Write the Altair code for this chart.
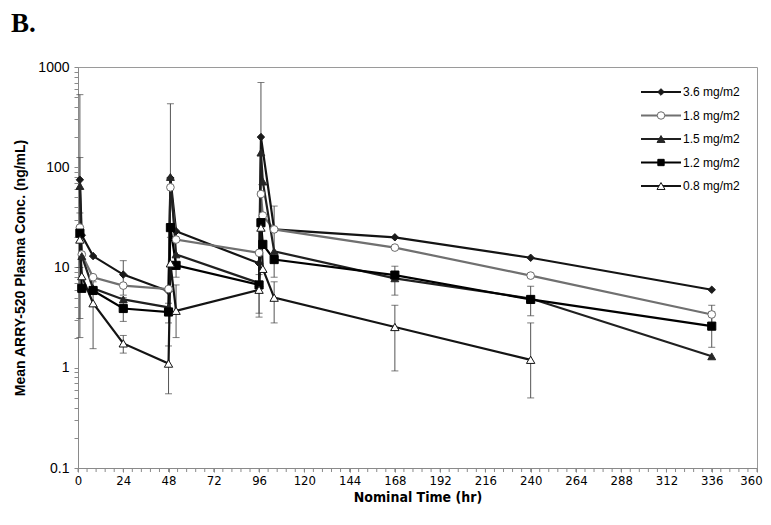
import altair as alt
import pandas as pd

# ---------------- data ----------------
series = ["3.6 mg/m2", "1.8 mg/m2", "1.5 mg/m2", "1.2 mg/m2", "0.8 mg/m2"]
line_colors = ["#141414", "#707070", "#202020", "#000000", "#141414"]
shapes = ["diamond", "circle", "triangle-up", "square", "triangle-up"]
fills = ["#1a1a1a", "#ffffff", "#262626", "#000000", "#ffffff"]
strokes = ["#1a1a1a", "#6a6a6a", "#262626", "#000000", "#141414"]
sizes = [55, 70, 80, 50, 80]

t_36 = [1, 2, 8, 24, 48, 49, 52, 96, 97, 104, 168, 240, 336]
c_36 = [75, 21, 13, 8.5, 5.8, 78, 23, 11, 200, 24, 20, 12.5, 6.0]
t_18 = [1, 2, 8, 24, 48, 49, 52, 96, 97, 98, 104, 168, 240, 336]
c_18 = [25, 13.5, 8.0, 6.6, 6.1, 63, 19, 14, 54, 33, 24, 15.8, 8.3, 3.4]
t_15 = [1, 2, 8, 24, 48, 49, 52, 96, 97, 98, 104, 168, 240, 336]
c_15 = [65, 13, 6.2, 4.8, 4.0, 80, 13.5, 7.0, 140, 72, 14.5, 7.8, 4.9, 1.3]
t_12 = [1, 2, 8, 24, 48, 49, 52, 96, 97, 98, 104, 168, 240, 336]
c_12 = [22, 6.2, 5.9, 3.9, 3.6, 25, 10.5, 6.7, 28, 17, 12, 8.4, 4.8, 2.6]
t_08 = [1, 2, 8, 24, 48, 49, 52, 96, 97, 98, 104, 168, 240]
c_08 = [19, 8.2, 4.4, 1.75, 1.1, 11, 3.7, 6.0, 25, 9.7, 5.0, 2.55, 1.2]

eb_series = ["3.6 mg/m2", "1.5 mg/m2", "1.2 mg/m2", "0.8 mg/m2", "3.6 mg/m2",
             "0.8 mg/m2", "1.2 mg/m2", "0.8 mg/m2", "1.2 mg/m2", "1.5 mg/m2",
             "0.8 mg/m2", "1.2 mg/m2", "1.5 mg/m2", "0.8 mg/m2", "3.6 mg/m2",
             "1.8 mg/m2", "0.8 mg/m2", "1.5 mg/m2", "0.8 mg/m2", "0.8 mg/m2",
             "1.5 mg/m2", "1.8 mg/m2", "1.2 mg/m2"]
eb_time = [1, 1, 1, 8, 24,
           24, 24, 48, 48, 49,
           52, 52, 96, 96, 97,
           104, 104, 168, 168, 240,
           240, 336, 336]
eb_lo = [2.0, 3.1, 10, 1.55, 5.3,
         1.4, 2.9, 0.55, 2.8, 20,
         2.0, 8.0, 3.2, 3.5, 57,
         8.0, 2.8, 5.3, 0.93, 0.5,
         3.3, 2.6, 1.6]
eb_hi = [530, 125, 35, 7.2, 11.7,
         2.1, 5.0, 1.65, 4.4, 430,
         6.7, 13, 11, 8.5, 700,
         41, 7.2, 10.3, 4.2, 2.8,
         6.5, 4.2, 3.6]

x_major = list(range(0, 361, 24))
x_minor = [round(i * 4.8, 4) for i in range(76)]
y_major = [0.1, 1, 10, 100, 1000]
y_ticks = []
for dec in [0.1, 1, 10, 100]:
    for m in range(1, 10):
        y_ticks.append(round(dec * m, 4))
y_ticks.append(1000)

# ---------------- tables ----------------
rows = []
for s, ts, cs in zip(series, [t_36, t_18, t_15, t_12, t_08],
                     [c_36, c_18, c_15, c_12, c_08]):
    for t, c in zip(ts, cs):
        rows.append({"series": s, "t": t, "c": c})
df = pd.DataFrame(rows)
eb = pd.DataFrame({"series": eb_series, "t": eb_time, "lo": eb_lo, "hi": eb_hi})
minor_df = pd.DataFrame({"t": x_minor})

W, H = 679, 401
FONT = "Liberation Sans, Arial, sans-serif"
NARROW = "Liberation Sans Narrow, Arial Narrow, DejaVu Sans Condensed, Liberation Sans, sans-serif"

xscale = alt.Scale(domain=[0, 360], nice=False, zero=False)
yscale = alt.Scale(type="log", domain=[0.1, 1000], nice=False)
col_scale = alt.Scale(domain=series, range=line_colors)

x_axis = alt.Axis(values=x_major, format="d",
                  title="Nominal Time (hr)", grid=False, tickSize=4,
                  tickColor="#8a8a8a", domainColor="#8a8a8a",
                  labelFont=NARROW, labelFontSize=13, labelColor="#000",
                  labelPadding=2, titleFont=NARROW, titleFontSize=14,
                  titleFontWeight="bold", titleColor="#000", titlePadding=3,
                  labelFlush=False, labelOverlap=False,
                  labelOffset={"condition": {"test": "datum.value === 360", "value": -6},
                               "value": 0})
y_axis = alt.Axis(values=y_ticks,
                  labelExpr="indexof([0.1,1,10,100,1000], datum.value) >= 0 ? toString(datum.value) : ''",
                  title="Mean ARRY-520 Plasma Conc. (ng/mL)", grid=False,
                  tickSize=4, tickColor="#8a8a8a", domainColor="#8a8a8a",
                  labelFont=FONT, labelFontSize=14, labelColor="#000",
                  labelPadding=5, titleFont=FONT, titleFontSize=14,
                  titleFontWeight="bold", titleColor="#000", titlePadding=10,
                  labelOverlap=False, labelFlush=False)

err_rule = alt.Chart(eb).mark_rule(strokeWidth=1, color="#555555").encode(
    x=alt.X("t:Q", scale=xscale, axis=x_axis),
    y=alt.Y("lo:Q", scale=yscale, axis=y_axis),
    y2="hi:Q",
)
cap_lo = alt.Chart(eb).mark_tick(orient="horizontal", size=7, thickness=1,
                                 color="#444444").encode(
    x=alt.X("t:Q", scale=xscale, axis=x_axis), y=alt.Y("lo:Q", scale=yscale, axis=y_axis))
cap_hi = alt.Chart(eb).mark_tick(orient="horizontal", size=7, thickness=1,
                                 color="#444444").encode(
    x=alt.X("t:Q", scale=xscale, axis=x_axis), y=alt.Y("hi:Q", scale=yscale, axis=y_axis))

minor_ticks = alt.Chart(minor_df).mark_rule(color="#8a8a8a", strokeWidth=1).encode(
    x=alt.X("t:Q", scale=xscale, axis=x_axis), y=alt.value(H), y2=alt.value(H + 4))

lines = alt.Chart(df).mark_line(strokeWidth=2.2).encode(
    x=alt.X("t:Q", scale=xscale, axis=x_axis),
    y=alt.Y("c:Q", scale=yscale, axis=y_axis),
    color=alt.Color("series:N", scale=col_scale, legend=None),
    detail="series:N",
    order="t:Q",
)
points = alt.Chart(df).mark_point(opacity=1, fillOpacity=1, strokeWidth=1).encode(
    x=alt.X("t:Q", scale=xscale, axis=x_axis),
    y=alt.Y("c:Q", scale=yscale, axis=y_axis),
    shape=alt.Shape("series:N", scale=alt.Scale(domain=series, range=shapes), legend=None),
    fill=alt.Fill("series:N", scale=alt.Scale(domain=series, range=fills), legend=None),
    stroke=alt.Stroke("series:N", scale=alt.Scale(domain=series, range=strokes), legend=None),
    size=alt.Size("series:N", scale=alt.Scale(domain=series, range=sizes), legend=None),
)

# ---------------- legend (manual, line + symbol) ----------------
legend_layers = []
for i, s in enumerate(series):
    py = 25 + i * 23.5
    one = pd.DataFrame({"label": [s]})
    legend_layers.append(alt.Chart(one).mark_rule(strokeWidth=2, color=line_colors[i]).encode(
        x=alt.value(563), x2=alt.value(603), y=alt.value(py)))
    legend_layers.append(alt.Chart(one).mark_point(
        shape=shapes[i], fill=fills[i], stroke=strokes[i], fillOpacity=1, opacity=1,
        strokeWidth=1, size=sizes[i] * 0.8).encode(x=alt.value(583), y=alt.value(py)))
    legend_layers.append(alt.Chart(one).mark_text(
        align="left", baseline="middle", font=FONT, fontSize=12, color="#000").encode(
        x=alt.value(605), y=alt.value(py), text="label:N"))

panel = alt.Chart(pd.DataFrame({"label": ["B."]})).mark_text(
    align="left", baseline="alphabetic", font="Liberation Serif, Times New Roman, serif",
    fontSize=27, fontWeight="bold", color="#000").encode(
    x=alt.value(-67), y=alt.value(-35), text="label:N")

chart = alt.layer(err_rule, cap_lo, cap_hi, minor_ticks, lines, points,
                  *legend_layers, panel).properties(
    width=W, height=H,
    padding={"left": 70, "top": 59, "right": 6, "bottom": 49},
    autosize=alt.AutoSizeParams(type="none"),
    background="white",
).configure_view(stroke="#9a9a9a", strokeWidth=1)

chart.save("out.html", embed_options={"renderer": "svg", "actions": False})
